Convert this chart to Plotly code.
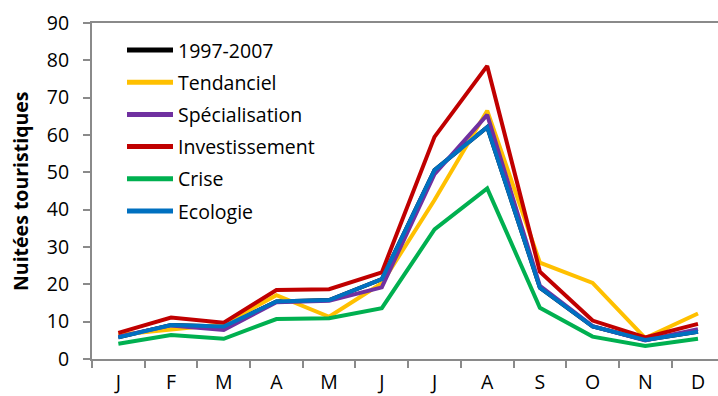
import plotly.graph_objects as go

# Monthly tourist nights per scenario
months = ["J", "F", "M", "A", "M", "J", "J", "A", "S", "O", "N", "D"]
series_names = ["1997-2007", "Tendanciel", "Spécialisation", "Investissement", "Crise", "Ecologie"]

ref_1997_2007 = [5.8, 9.1, 8.7, 15.4, 15.8, 21.4, 50.6, 62.1, 19.1, 8.7, 5.1, 7.3]
tendanciel = [6.5, 8.0, 9.3, 17.1, 11.3, 20.3, 42.6, 66.5, 25.8, 20.4, 5.6, 12.2]
specialisation = [6.0, 9.0, 7.8, 15.2, 15.6, 19.2, 49.5, 65.4, 19.6, 8.8, 5.0, 8.0]
investissement = [7.0, 11.1, 9.7, 18.5, 18.7, 23.2, 59.5, 78.5, 23.4, 10.3, 5.8, 9.4]
crise = [4.1, 6.4, 5.4, 10.7, 10.9, 13.6, 34.7, 45.7, 13.7, 6.0, 3.5, 5.4]
ecologie = [5.8, 9.1, 8.7, 15.4, 15.8, 21.4, 50.6, 62.1, 19.1, 8.7, 5.1, 7.3]

values = [ref_1997_2007, tendanciel, specialisation, investissement, crise, ecologie]
colors = ["#000000", "#FFC000", "#7030A0", "#C00000", "#00B050", "#0070C0"]

FONT = "Open Sans"
AXIS_GREY = "#8a8a8a"

W, H = 718, 396
M_L, M_T, M_B, M_R = 92, 23, 37, 0
plot_w = W - M_L - M_R
plot_h = H - M_T - M_B

x = list(range(len(months)))

fig = go.Figure()
for name, vals, col in zip(series_names, values, colors):
    fig.add_trace(go.Scatter(
        x=x, y=vals, name=name, mode="lines",
        line=dict(color=col, width=4),
        showlegend=False, hoverinfo="name+y",
    ))

# Legend drawn inside the plot area: sample line + label per series
leg_x0, leg_x1, leg_tx = 127, 173, 176
leg_y0, leg_dy = 50, 32.2
shapes, annotations = [], []
for i, (name, col) in enumerate(zip(series_names, colors)):
    ypx = leg_y0 + i * leg_dy
    yp = (H - M_B - ypx) / plot_h
    shapes.append(dict(
        type="line", xref="paper", yref="paper",
        x0=(leg_x0 - M_L) / plot_w, x1=(leg_x1 - M_L) / plot_w, y0=yp, y1=yp,
        line=dict(color=col, width=5),
    ))
    annotations.append(dict(
        text=name, xref="paper", yref="paper",
        x=(leg_tx - M_L) / plot_w, y=yp, xanchor="left", yanchor="middle",
        showarrow=False, font=dict(family=FONT, size=19.5, color="#000000"),
    ))

# Y axis title
annotations.append(dict(
    text="<b>Nuitées touristiques</b>", xref="paper", yref="paper",
    x=(20 - M_L) / plot_w, y=0.5, xanchor="center", yanchor="middle",
    textangle=-90, showarrow=False,
    font=dict(family=FONT, size=19.5, color="#000000"),
))

fig.update_layout(
    width=W, height=H,
    margin=dict(l=M_L, r=M_R, t=M_T, b=M_B, pad=0, autoexpand=False),
    paper_bgcolor="white", plot_bgcolor="white",
    font=dict(family=FONT, size=19.5, color="#000000"),
    shapes=shapes, annotations=annotations,
    showlegend=False,
)

fig.update_xaxes(
    range=[-0.5, 11.38], automargin=False,
    tickmode="array", tickvals=x, ticktext=months,
    ticks="", showgrid=False, zeroline=False,
    showline=True, linecolor=AXIS_GREY, linewidth=2, mirror=True,
    ticklabelstandoff=5,
    minor=dict(tickmode="array", tickvals=[i - 0.5 for i in range(13)],
               ticks="outside", ticklen=7, tickcolor=AXIS_GREY, tickwidth=2,
               showgrid=False),
    fixedrange=True,
)
fig.update_yaxes(
    range=[0, 90], tickmode="linear", tick0=0, dtick=10, automargin=False,
    ticks="outside", ticklen=7, tickcolor=AXIS_GREY, tickwidth=2,
    showgrid=False, zeroline=False,
    showline=True, linecolor=AXIS_GREY, linewidth=2,
    ticklabelstandoff=10,
    fixedrange=True,
)

fig.write_html("out.html")
